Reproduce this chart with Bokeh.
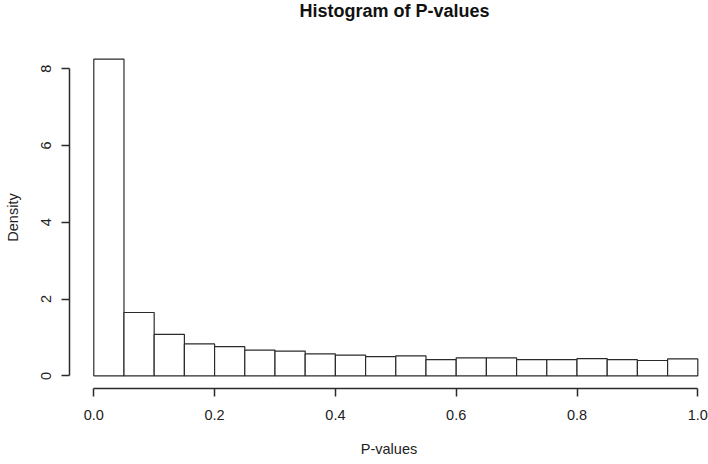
from bokeh.plotting import figure
from bokeh.models import Range1d, FixedTicker, ColumnDataSource, Title
from bokeh.embed import file_html
from bokeh.resources import INLINE

# ---- data ----
breaks = [0.00, 0.05, 0.10, 0.15, 0.20, 0.25, 0.30, 0.35, 0.40, 0.45, 0.50,
          0.55, 0.60, 0.65, 0.70, 0.75, 0.80, 0.85, 0.90, 0.95, 1.00]
density = [8.25, 1.65, 1.08, 0.83, 0.76, 0.67, 0.645, 0.57, 0.54, 0.50,
           0.52, 0.42, 0.47, 0.47, 0.42, 0.42, 0.45, 0.42, 0.40, 0.44]
x_ticks = [0.0, 0.2, 0.4, 0.6, 0.8, 1.0]
x_tick_labels = ["0.0", "0.2", "0.4", "0.6", "0.8", "1.0"]
y_ticks = [0, 2, 4, 6, 8]
y_tick_labels = ["0", "2", "4", "6", "8"]
title_text = "Histogram of P-values"
x_label = "P-values"
y_label = "Density"

FONT = "Liberation Sans"
INK = "#2b2b2b"

src = ColumnDataSource(dict(left=breaks[:-1], right=breaks[1:], top=density,
                            bottom=[0] * len(density)))

p = figure(width=708, height=464, output_backend="svg", toolbar_location=None,
           x_range=Range1d(-0.0402, 1.0177), y_range=Range1d(-0.33, 8.58))
p.min_border = 0
p.min_border_left = 69
p.min_border_right = 0
p.min_border_top = 43
p.min_border_bottom = 76
p.outline_line_color = None
p.background_fill_color = "white"
p.border_fill_color = "white"
p.xgrid.visible = False
p.ygrid.visible = False

p.quad(left="left", right="right", top="top", bottom="bottom", source=src,
       fill_color="white", line_color=INK, line_width=1.2)

# spacer between frame and title (closest to the frame), then the title
spacer = Title(text=" ", text_font=FONT, text_font_size="10px", standoff=15)
p.add_layout(spacer, "above")
main_title = Title(text=title_text, text_font=FONT, text_font_style="bold",
                   text_font_size="18px", text_color="#111111",
                   align="left", offset=230, standoff=-4)
p.add_layout(main_title, "above")

# x axis
xa = p.xaxis[0]
xa.bounds = (0, 1)
xa.ticker = FixedTicker(ticks=x_ticks)
xa.major_label_overrides = {t: s for t, s in zip(x_ticks, x_tick_labels)}
xa.minor_tick_line_color = None
xa.major_tick_in = 0
xa.major_tick_out = 8
xa.axis_line_color = INK
xa.axis_line_width = 1.5
xa.major_tick_line_color = INK
xa.major_tick_line_width = 1.5
xa.major_label_text_font = FONT
xa.major_label_text_font_size = "14.5px"
xa.major_label_text_color = "#222222"
xa.major_label_standoff = 13
xa.axis_label = x_label
xa.axis_label_text_font = FONT
xa.axis_label_text_font_style = "normal"
xa.axis_label_text_font_size = "14.5px"
xa.axis_label_text_color = "#222222"
xa.axis_label_standoff = 18

# y axis
ya = p.yaxis[0]
ya.bounds = (0, 8)
ya.ticker = FixedTicker(ticks=y_ticks)
ya.major_label_overrides = {t: s for t, s in zip(y_ticks, y_tick_labels)}
ya.minor_tick_line_color = None
ya.major_tick_in = 0
ya.major_tick_out = 8
ya.axis_line_color = INK
ya.axis_line_width = 1.5
ya.major_tick_line_color = INK
ya.major_tick_line_width = 1.5
ya.major_label_text_font = FONT
ya.major_label_text_font_size = "14.5px"
ya.major_label_text_color = "#222222"
ya.major_label_orientation = "parallel"
ya.major_label_standoff = 10
ya.axis_label = y_label
ya.axis_label_text_font = FONT
ya.axis_label_text_font_style = "normal"
ya.axis_label_text_font_size = "14.5px"
ya.axis_label_text_color = "#222222"
ya.axis_label_standoff = 18

open("out.html", "w").write(file_html(p, INLINE))
